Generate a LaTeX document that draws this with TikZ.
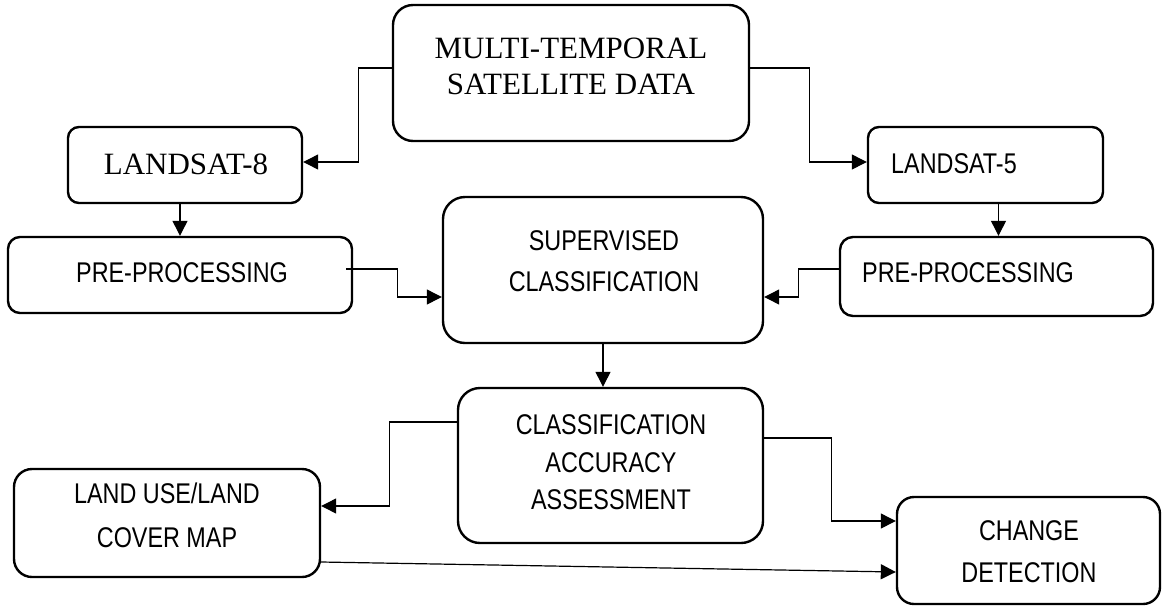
\documentclass[tikz,border=0pt]{standalone}
\usepackage{fontspec}
\usetikzlibrary{arrows.meta}
\IfFontExistsTF{Liberation Sans Narrow}
  {\newfontfamily\narrowfont{Liberation Sans Narrow}}
  {\newfontfamily\narrowfont{Liberation Sans}[FakeStretch=0.82]}
\newfontfamily\timesfont{Liberation Serif}
\tikzset{
  box/.style={draw=black, line width=2.4pt, rectangle, inner sep=0pt, fill=white},
  sans/.style={font=\narrowfont\fontsize{28.5}{34}\selectfont, inner sep=0pt, anchor=base},
  serifl/.style={font=\timesfont\fontsize{31}{36}\selectfont, inner sep=0pt, anchor=base},
  arr/.style={draw=black, line width=1.2pt, -{Triangle[length=15pt,width=15pt]}},
}
\begin{document}
\begin{tikzpicture}[x=1pt,y=1pt]
\useasboundingbox[fill=white] (0,0) rectangle (1173,-606);

% boxes (centre, size)
\node[box, rounded corners=20pt, minimum width=356pt, minimum height=136pt] (multi) at (571,-73) {};
\node[box, rounded corners=11pt, minimum width=234pt, minimum height=76pt] (l8) at (185,-165) {};
\node[box, rounded corners=11pt, minimum width=235pt, minimum height=76pt] (l5) at (985.5,-165) {};
\node[box, rounded corners=12pt, minimum width=344pt, minimum height=76pt] (pre1) at (180,-275) {};
\node[box, rounded corners=22pt, minimum width=320pt, minimum height=146pt] (sup) at (603,-270) {};
\node[box, rounded corners=13pt, minimum width=313pt, minimum height=79pt] (pre2) at (996.5,-276.5) {};
\node[box, rounded corners=22pt, minimum width=305pt, minimum height=155pt] (cls) at (610.5,-465.5) {};
\node[box, rounded corners=18pt, minimum width=306pt, minimum height=108pt] (lulc) at (167,-523) {};
\node[box, rounded corners=17pt, minimum width=263pt, minimum height=107pt] (chg) at (1028.5,-550.5) {};

% texts
\node[serifl] (multiA) at (571,-58) {MULTI-TEMPORAL};
\node[serifl] (multiB) at (571,-94) {SATELLITE DATA};
\node[serifl] (l8t) at (186,-174) {LANDSAT-8};
\node[sans, anchor=base west] (l5t) at (891,-173) {LANDSAT-5};
\node[sans, anchor=base west] (pre1t) at (76,-282) {PRE-PROCESSING};
\node[sans, anchor=base west] (pre2t) at (862,-282) {PRE-PROCESSING};
\node[sans] (supA) at (604,-250) {SUPERVISED};
\node[sans] (supB) at (604,-291) {CLASSIFICATION};
\node[sans] (clsA) at (611,-434) {CLASSIFICATION};
\node[sans] (clsB) at (611,-472) {ACCURACY};
\node[sans] (clsC) at (611,-509) {ASSESSMENT};
\node[sans] (lulcA) at (167,-503) {LAND USE/LAND};
\node[sans] (lulcB) at (167,-547) {COVER MAP};
\node[sans] (chgA) at (1029,-540) {CHANGE};
\node[sans] (chgB) at (1029,-582) {DETECTION};

% connectors
\draw[arr] ([yshift=5pt]multi.west) -- ++(-33,0) |- ([yshift=3pt]l8.east);
\draw[arr] ([yshift=5pt]multi.east) -- ++(59,0) |- ([yshift=3pt]l5.west);
\draw[arr] ([xshift=-5pt]l8.south) -- ([xshift=0pt]pre1.north);
\draw[arr] ([xshift=13pt]l5.south) -- ([xshift=2pt]pre2.north);
\draw[arr] ([xshift=-7pt,yshift=6pt]pre1.east) -- ++(51,0) |- ([yshift=-27pt]sup.west);
\draw[arr] ([yshift=7.5pt]pre2.west) -- ++(-40,0) |- ([yshift=-27pt]sup.east);
\draw[arr] (sup.south) -- (sup.south |- cls.north);
\draw[arr] ([yshift=43.5pt]cls.west) -- ++(-67,0) |- ([yshift=17pt]lulc.east);
\draw[arr] ([yshift=27.5pt]cls.east) -- ++(67,0) |- ([yshift=29.5pt]chg.west);
\draw[arr] ([yshift=-39pt]lulc.east) -- ([yshift=-21.5pt]chg.west);
\end{tikzpicture}
\end{document}
